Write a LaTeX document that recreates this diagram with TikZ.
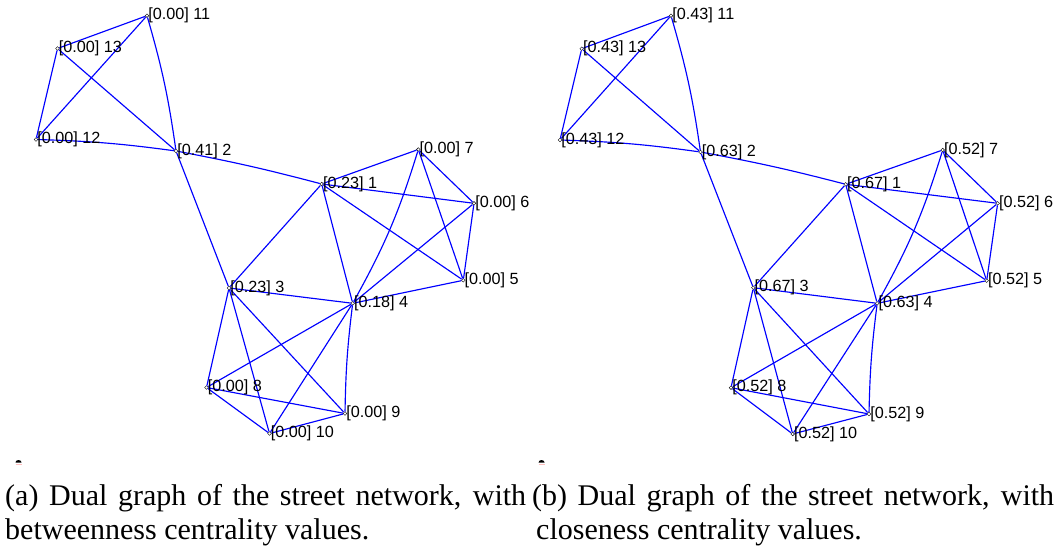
\documentclass[tikz,border=0pt]{standalone}
\usepackage{fontspec}
\setmainfont{Liberation Serif}
\newfontfamily\labfont{Liberation Sans}
\tikzset{
  edge/.style={draw={rgb,255:red,0;green,0;blue,255}, line width=1.15pt},
  vert/.style={circle, draw=black, fill=white, line width=0.4pt, inner sep=0pt, minimum size=3.6pt},
  lbl/.style={anchor=west, inner sep=0pt, font=\labfont\fontsize{16.2}{18}\selectfont},
  captext/.style={anchor=base west, inner sep=0pt, font=\fontsize{30}{34}\selectfont}
}
\begin{document}
\begin{tikzpicture}[x=1pt,y=1pt]
\useasboundingbox (0,0) rectangle (1058,-548);
% ---------- graph (a) ----------
\foreach \i/\x/\y in {1/321.7/184,2/176/151,3/229/288,4/352.7/303.3,5/463.3/280.3,6/474/203.3,7/418.3/149.5,8/206.5/387.5,9/345/413.5,10/269.5/433.5,11/147/15.7,12/36/139.5,13/57.5/48.5}
  \node[vert] (a\i) at (\x,-\y) {};
% ---------- graph (b) ----------
\foreach \i/\x/\y in {1/845.7/184.3,2/700.5/152,3/753.3/287.7,4/877.2/303.3,5/986.7/280.7,6/997.7/203.3,7/942.7/150,8/731/387.7,9/869/414,10/792.7/434,11/671/15.7,12/560/140,13/581.7/48.7}
  \node[vert] (b\i) at (\x,-\y) {};
\foreach \g in {a,b}{
  \foreach \p/\q in {11/13,11/12,13/12,13/2,2/3,1/7,1/6,1/5,1/3,1/4,7/6,7/5,6/5,6/4,5/4,3/4,3/8,3/9,3/10,4/8,4/10,8/9,8/10,9/10}
    \draw[edge] (\g\p) -- (\g\q);
  \draw[edge] (\g11) to[bend left=4] (\g2);
  \draw[edge] (\g12) to[bend left=3] (\g2);
  \draw[edge] (\g2) to[bend left=2] (\g1);
  \draw[edge] (\g4) to[bend right=6] (\g7);
  \draw[edge] (\g4) to[bend right=3] (\g9);
}
% labels
\foreach \i/\v in {1/0.23,2/0.41,3/0.23,4/0.18,5/0.00,6/0.00,7/0.00,8/0.00,9/0.00,10/0.00,11/0.00,12/0.00,13/0.00}
  \node[lbl] (la\i) at ([xshift=1.2pt]a\i.center) {[\v] \i};
\foreach \i/\v in {1/0.67,2/0.63,3/0.67,4/0.63,5/0.52,6/0.52,7/0.52,8/0.52,9/0.52,10/0.52,11/0.43,12/0.43,13/0.43}
  \node[lbl] (lb\i) at ([xshift=1.2pt]b\i.center) {[\v] \i};
% small marks
\fill[black] (15.5,-462.5) arc[start angle=180,end angle=0,x radius=3,y radius=2.5] -- cycle;
\draw[pink, line width=1pt] (15.5,-464.5) -- (21.5,-464.5);
\fill[black] (538.5,-462.5) arc[start angle=180,end angle=0,x radius=3,y radius=2.5] -- cycle;
\draw[pink, line width=1pt] (538.5,-464.5) -- (544.5,-464.5);
% captions
\node[captext] (ca1) at (5,-505) {\makebox[521pt][s]{(a) Dual graph of the street network, with}};
\node[captext] (ca2) at (5,-539) {betweenness centrality values.};
\node[captext] (cb1) at (532,-505) {\makebox[522pt][s]{(b) Dual graph of the street network, with}};
\node[captext] (cb2) at (536,-539) {closeness centrality values.};
\end{tikzpicture}
\end{document}
